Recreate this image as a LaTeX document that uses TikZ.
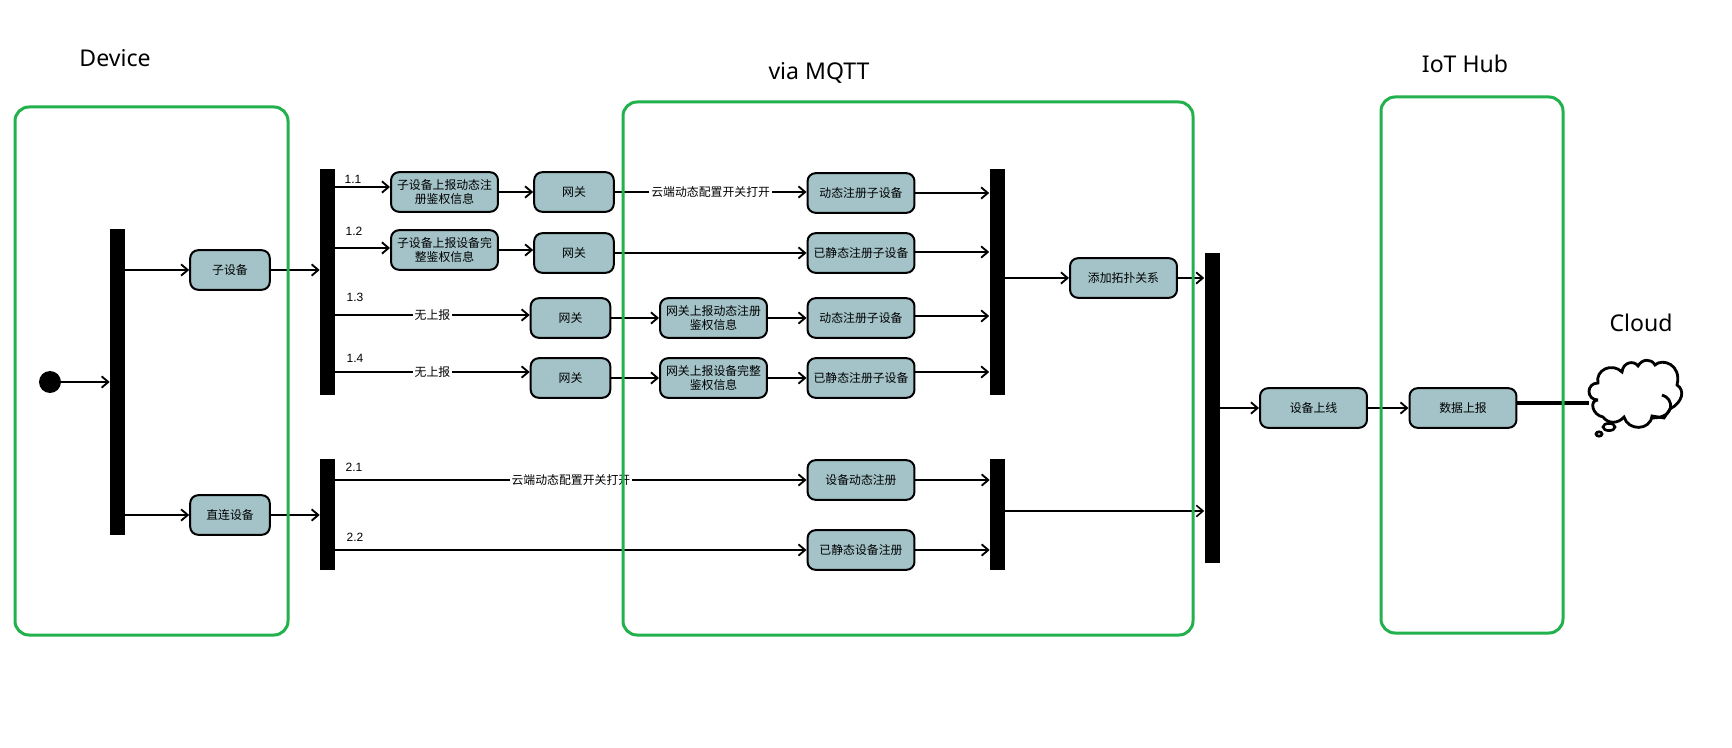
\documentclass[tikz,border=0pt]{standalone}
\usepackage{fontspec}
\setmainfont{Noto Sans}
\newfontfamily\cjk{Noto Sans CJK SC}
\newfontfamily\numfont{Liberation Sans}
\usepackage{xcolor}
\usetikzlibrary{
    positioning,
    arrows.meta
}
\definecolor{boxFill}{RGB}{163, 195, 200}
\definecolor{groupGreen}{RGB}{34, 177, 76}
\tikzset{
    actbox/.style={draw, fill=boxFill, line width=1.5pt, rounded corners=6pt, minimum height=29.7pt, inner sep=0pt, align=center, font=\cjk\fontsize{8.9}{10.6}\selectfont},
    actshort/.style={actbox, minimum width=59.7pt},
    actwide/.style={actbox, minimum width=80.2pt},
    syncbar/.style={fill=black, inner sep=0pt, minimum width=11.25pt},
    flow/.style={->, line width=1.4pt},
    flowtext/.style={fill=white, inner sep=1.5pt, font=\cjk\fontsize{8.9}{10.6}\selectfont},
    stepnum/.style={font=\numfont\fontsize{9}{10}\selectfont, inner sep=0pt},
    grouptitle/.style={font=\fontsize{17.3}{20}\selectfont, inner sep=0pt},
    groupbox/.style={draw=groupGreen, line width=2.25pt, rounded corners=10.5pt}
}
\begin{document}
\begin{tikzpicture}[x=0.75pt, y=-0.75pt, >={Straight Barb[length=5pt,width=8.5pt]}]
        \useasboundingbox (0,0) rectangle (1732,748);

        % bars
        \node[syncbar, minimum height=229.5pt] (barStart) at (117.5,382) {};
        \node[syncbar, minimum height=169.5pt] (barSub) at (327.5,282) {};
        \node[syncbar, minimum height=83.25pt] (barDirect) at (327.5,514.5) {};
        \node[syncbar, minimum height=169.5pt] (barSubEnd) at (997,282) {};
        \node[syncbar, minimum height=83.25pt] (barDirectEnd) at (997.5,514.5) {};
        \node[syncbar, minimum height=232.5pt] (barOnline) at (1212,408) {};

        \node[circle, fill=black, minimum size=16.5pt, inner sep=0pt] (start) at (50,382) {};

        % device column
        \node[actshort] (subDev) at (230,270) {子设备};
        \node[actshort] (directDev) at (230,515) {直连设备};

        % sub device rows
        \node[actwide] (reportDyn) at (444.5,192) {子设备上报动态注\\册鉴权信息};
        \node[actwide] (reportFull) at (444.5,250) {子设备上报设备完\\整鉴权信息};
        \node[actshort] (gwA) at (574,192) {网关};
        \node[actshort] (gwB) at (574,253) {网关};
        \node[actshort] (gwC) at (570.5,318) {网关};
        \node[actshort] (gwD) at (570.5,378) {网关};
        \node[actwide] (gwDyn) at (713.5,318) {网关上报动态注册\\鉴权信息};
        \node[actwide] (gwFull) at (713.5,378) {网关上报设备完整\\鉴权信息};
        \node[actwide] (regA) at (861,193) {动态注册子设备};
        \node[actwide] (regB) at (861,253) {已静态注册子设备};
        \node[actwide] (regC) at (861,318) {动态注册子设备};
        \node[actwide] (regD) at (861,378) {已静态注册子设备};

        % direct device rows
        \node[actwide] (devDyn) at (861,480) {设备动态注册};
        \node[actwide] (devStatic) at (861,550) {已静态设备注册};

        \node[actwide] (topo) at (1123.5,278) {添加拓扑关系};
        \node[actwide] (online) at (1313.5,408) {设备上线};
        \node[actwide] (upload) at (1463,408) {数据上报};

        \coordinate (cloudIn) at (1589,403);

        % connectors
        \draw[flow] (start) -- (barStart.west |- start);
        \draw[flow] (barStart.east |- subDev) -- (subDev);
        \draw[flow] (barStart.east |- directDev) -- (directDev);
        \draw[flow] (subDev) -- (barSub.west |- subDev);
        \draw[flow] (directDev) -- (barDirect.west |- directDev);

        \draw[flow] (barSub.east |- 0,187) -- (reportDyn.west |- 0,187);
        \draw[flow] (barSub.east |- 0,248) -- (reportFull.west |- 0,248);
        \draw[flow] (barSub.east |- 0,315) -- (gwC.west |- 0,315) node[midway, flowtext] (noneC) {无上报};
        \draw[flow] (barSub.east |- 0,372) -- (gwD.west |- 0,372) node[midway, flowtext] (noneD) {无上报};
        \draw[flow] (reportDyn) -- (gwA);
        \draw[flow] (reportFull) -- (gwB.west |- reportFull);
        \draw[flow] (gwA) -- (regA.west |- gwA) node[midway, flowtext] (switchA) {云端动态配置开关打开};
        \draw[flow] (gwB) -- (regB);
        \draw[flow] (gwC) -- (gwDyn);
        \draw[flow] (gwD) -- (gwFull);
        \draw[flow] (gwDyn) -- (regC);
        \draw[flow] (gwFull) -- (regD);

        \draw[flow] (regA) -- (barSubEnd.west |- regA);
        \draw[flow] (regB.east |- 0,252) -- (barSubEnd.west |- 0,252);
        \draw[flow] (regC.east |- 0,316) -- (barSubEnd.west |- 0,316);
        \draw[flow] (regD.east |- 0,372) -- (barSubEnd.west |- 0,372);

        \draw[flow] (barDirect.east |- devDyn) -- (devDyn) node[midway, flowtext] (switchB) {云端动态配置开关打开};
        \draw[flow] (barDirect.east |- devStatic) -- (devStatic);
        \draw[flow] (devDyn) -- (barDirectEnd.west |- devDyn);
        \draw[flow] (devStatic) -- (barDirectEnd.west |- devStatic);

        \draw[flow] (barSubEnd.east |- topo) -- (topo);
        \draw[flow] (topo) -- (barOnline.west |- topo);
        \draw[flow, line width=1.2pt] (barDirectEnd.east |- 0,511) -- (barOnline.west |- 0,511);
        \draw[flow] (barOnline.east |- online) -- (online);
        \draw[flow] (online) -- (upload);
        \draw[line width=2.6pt] (upload.east |- cloudIn) -- (cloudIn);

        % step numbers
        \node[stepnum] (numA) at (353,179) {1.1};
        \node[stepnum] (numB) at (354,231) {1.2};
        \node[stepnum] (numC) at (355,297) {1.3};
        \node[stepnum] (numD) at (355,358) {1.4};
        \node[stepnum] (numE) at (354,467) {2.1};
        \node[stepnum] (numF) at (355,537) {2.2};

        % cloud
        \draw[line width=2.1pt, fill=white] (1598,400)
            .. controls (1586,400) and (1586,383) .. (1598,383)
            .. controls (1595,370) and (1612,362) .. (1622,372)
            .. controls (1623,362) and (1634,360) .. (1638,366)
            .. controls (1642,359) and (1651,358) .. (1655,365)
            .. controls (1662,358) and (1682,364) .. (1677,385)
            .. controls (1685,390) and (1683,402) .. (1670,409)
            -- (1664,418) -- (1652,416)
            .. controls (1650,431) and (1628,431) .. (1624,417)
            .. controls (1618,424) and (1608,424) .. (1603,417)
            .. controls (1592,415) and (1589,400) .. (1598,400);
        \draw[line width=2.1pt] (1662,395) .. controls (1674,398) and (1676,418) .. (1652,418);
        \draw[line width=2pt, fill=white] (1609,427) ellipse (6 and 3.6);
        \draw[line width=2pt, fill=white] (1599,434) ellipse (3 and 2.2);

        % groups
        \draw[groupbox] (15,107) rectangle (288,635);
        \draw[groupbox] (623,102) rectangle (1193,635);
        \draw[groupbox] (1381,97) rectangle (1563,633);
        \node[grouptitle] (titleDevice) at (115,58) {Device};
        \node[grouptitle] (titleMqtt) at (819,73) {via MQTT};
        \node[grouptitle] (titleHub) at (1465,64) {IoT Hub};
        \node[grouptitle] (titleCloud) at (1641,323) {Cloud};
    \end{tikzpicture}
\end{document}
